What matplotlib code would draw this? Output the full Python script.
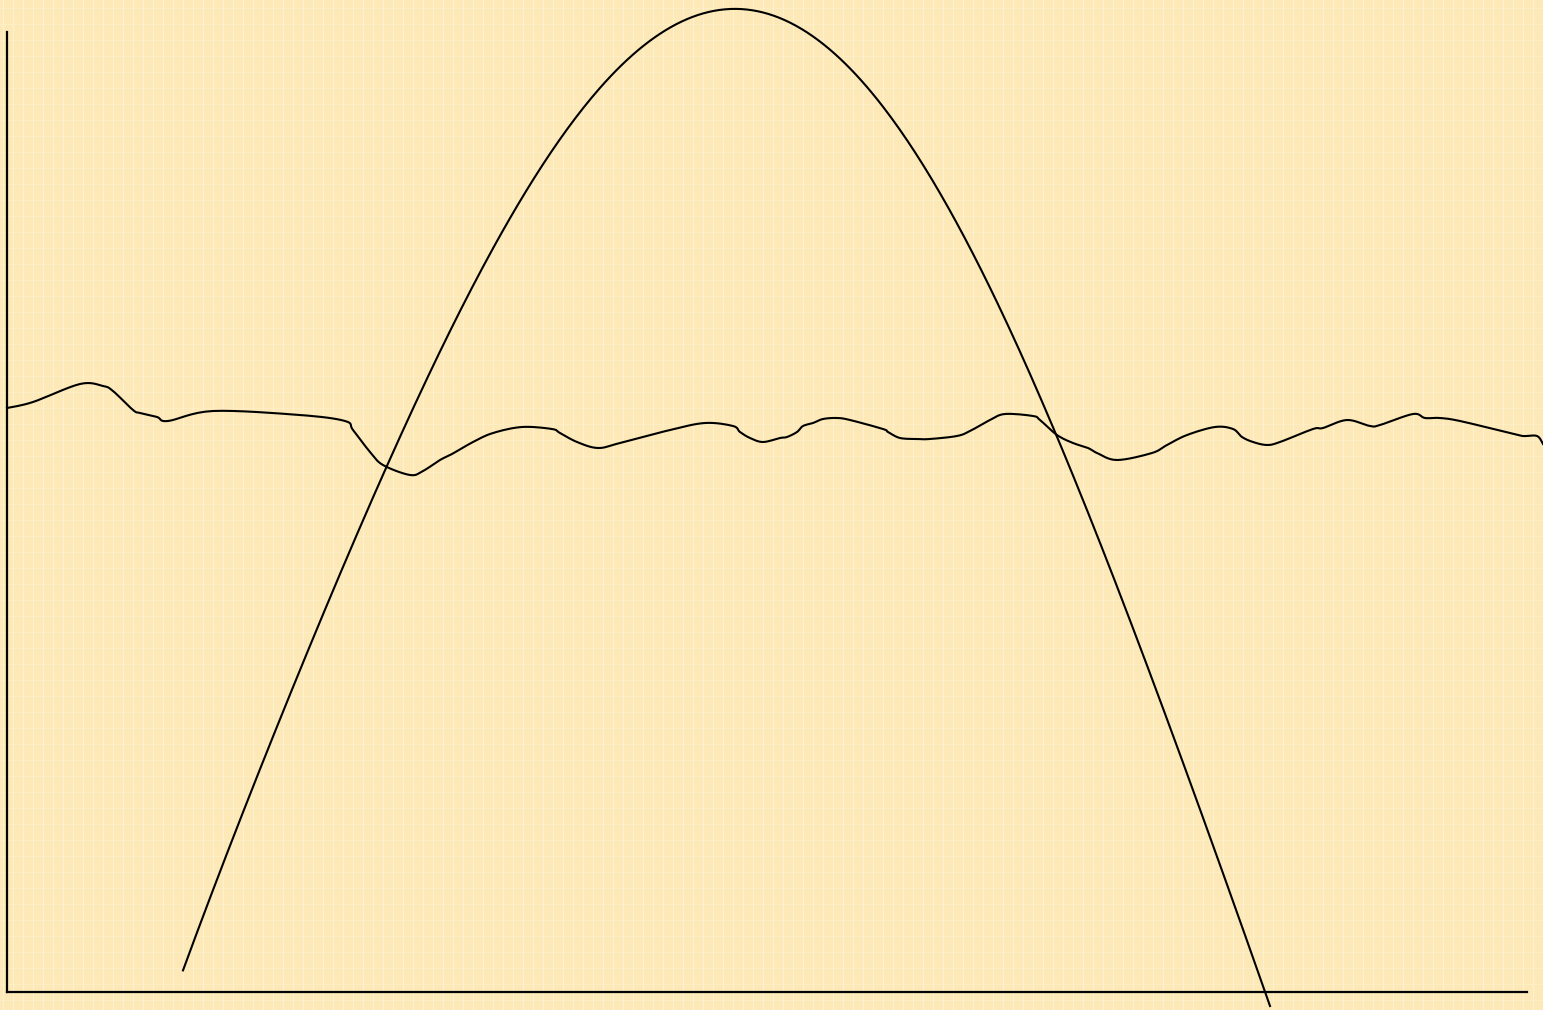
import numpy as np
import matplotlib
matplotlib.use("Agg")
from matplotlib import pyplot as plt

# arch curve
arch_x = [17.6, 20.6, 24.0, 27.3, 30.6, 34.0, 37.3, 40.6, 44.0, 47.3, 50.6, 54.0,
          57.3, 60.6, 64.0, 67.3, 70.6, 73.0, 76.6, 80.0, 83.3, 86.6, 90.0, 93.3,
          96.6, 100.0, 103.3, 106.6, 109.3, 111.8, 115.5, 119.1, 122.5, 126.3]
arch_y = [2.5, 10.2, 18.5, 26.9, 35.2, 43.6, 51.2, 59.2, 65.9, 71.9, 77.9, 83.2,
          87.5, 91.2, 94.5, 96.9, 98.2, 98.6, 97.9, 96.2, 93.5, 90.2, 85.5, 79.9,
          73.5, 66.5, 59.2, 51.2, 44.7, 38.7, 29.2, 19.2, 9.2, -1.6]

# wavy series
wave_x = [0, 2.6, 7.3, 9.6, 10.6, 12.6, 13.3, 15.0, 16.1, 20.6, 29.3, 33.8, 34.6,
          36.3, 37.6, 40.3, 41.6, 43.3, 44.5, 46.6, 48.6, 51.5, 54.5, 55.3, 57.0,
          59.1, 61.3, 66.3, 69.8, 72.6, 73.3, 74.3, 75.6, 77.3, 78.0, 79.0, 79.6,
          80.6, 81.6, 83.0, 84.3, 87.6, 88.1, 89.3, 91.0, 92.3, 95.0, 96.3, 98.3,
          99.8, 102.6, 103.3, 105.0, 106.6, 108.1, 109.0, 111.0, 114.5, 116.0,
          118.0, 120.8, 122.6, 123.5, 124.6, 126.0, 127.3, 130.6, 131.6, 134.0,
          136.3, 137.3, 140.6, 141.8, 143.3, 145.3, 150.3, 151.6, 153.0, 153.6]
wave_y = [58.4, 59.0, 60.8, 60.6, 60.1, 58.2, 57.9, 57.5, 57.1, 58.1, 57.7, 57.1,
          56.2, 54.0, 52.7, 51.7, 52.1, 53.2, 53.8, 55.0, 55.9, 56.5, 56.3, 55.9,
          55.0, 54.4, 54.9, 56.2, 56.9, 56.6, 56.0, 55.4, 55.0, 55.4, 55.5, 56.0,
          56.6, 56.9, 57.3, 57.4, 57.2, 56.3, 56.0, 55.4, 55.3, 55.3, 55.6, 56.1,
          57.2, 57.8, 57.6, 57.2, 55.7, 54.9, 54.4, 53.9, 53.2, 53.9, 54.7, 55.7,
          56.5, 56.3, 55.5, 55.0, 54.7, 55.0, 56.3, 56.4, 57.2, 56.6, 56.7, 57.8,
          57.4, 57.4, 57.1, 55.9, 55.6, 55.6, 54.8]


def catmull(xs, ys, n=8):
    # smooth curve through the read points
    p = np.column_stack([xs, ys]).astype(float)
    p = np.vstack([p[0], p, p[-1]])
    out = []
    t = np.linspace(0, 1, n, endpoint=False)[:, None]
    for i in range(1, len(p) - 2):
        p0, p1, p2, p3 = p[i - 1], p[i], p[i + 1], p[i + 2]
        seg = 0.5 * ((2 * p1) + (-p0 + p2) * t + (2 * p0 - 5 * p1 + 4 * p2 - p3) * t ** 2
                     + (-p0 + 3 * p1 - 3 * p2 + p3) * t ** 3)
        out.append(seg)
    out.append(p[-2][None, :])
    out = np.vstack(out)
    return out[:, 0], out[:, 1]


# arch: smooth fit through the read points
coef = np.polyfit(arch_x, arch_y, 6)
ax_s = np.linspace(arch_x[0], arch_x[-1], 400)
ay_s = np.polyval(coef, ax_s)
wx_s, wy_s = catmull(wave_x, wave_y)

W, H = 1543, 1010
fig = plt.figure(figsize=(W / 100, H / 100), dpi=100)

# paper texture in the background
bg = np.zeros((H, W, 3))
bg[:] = np.array([252, 233, 183]) / 255
light = np.array([254, 241, 207]) / 255
cols = np.arange(W)
bg[:, (cols % 10) == 3] = light
rows = (np.arange(H) % 16) == 8
bg[rows, :] = bg[rows, :] * 0.5 + light * 0.5
bga = fig.add_axes([0, 0, 1, 1])
bga.imshow(bg, aspect="auto", interpolation="nearest")
bga.axis("off")

ax = fig.add_axes([7 / W, 18 / H, 1520 / W, 960 / H])
ax.patch.set_alpha(0)
ax.plot(ax_s, ay_s, color="black", lw=1.5, clip_on=False)
ax.plot(wx_s, wy_s, color="black", lw=1.5, clip_on=False)
ax.set_xlim(0, 152)
ax.set_ylim(0, 96)
ax.spines["top"].set_visible(False)
ax.spines["right"].set_visible(False)
for s in ("left", "bottom"):
    ax.spines[s].set_linewidth(1.6)
ax.set_xticks([])
ax.set_yticks([])

fig.savefig("out.png", dpi=100)
